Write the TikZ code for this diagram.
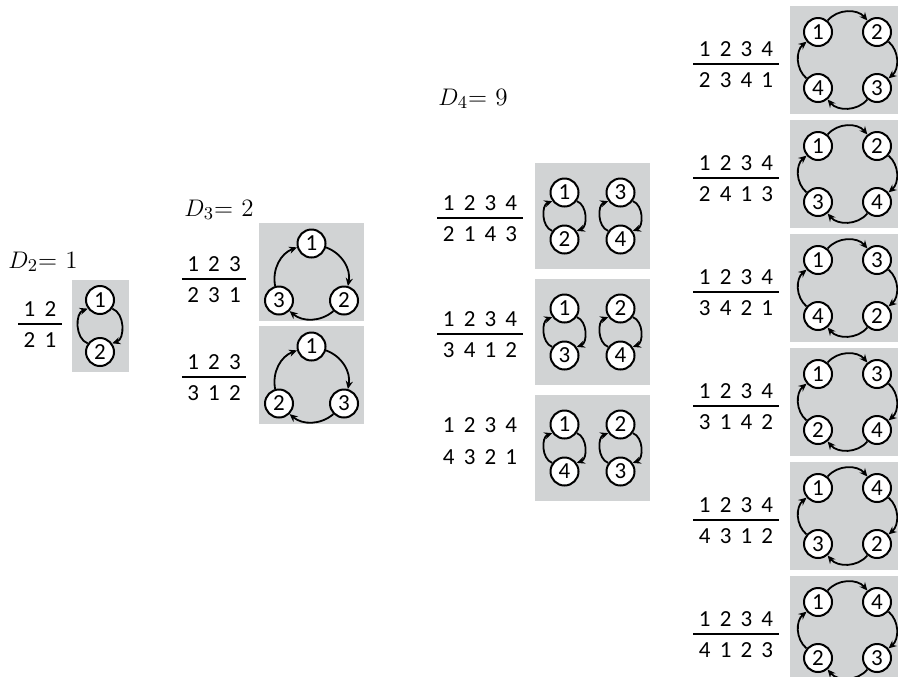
\documentclass[tikz,border=0pt]{standalone}
\usepackage{fontspec}
\setsansfont{Carlito}
\usetikzlibrary{arrows.meta,positioning}
\definecolor{boxgray}{RGB}{209,211,212}
\tikzset{
  ball/.style={circle,draw,fill=white,line width=1pt,minimum size=14pt,inner sep=0pt,font=\sffamily\fontsize{11.5}{13}\selectfont},
  cyc/.style={->,line width=0.9pt,bend left=#1},
  digits/.style={font=\sffamily\fontsize{11.5}{13}\selectfont,inner xsep=2.5pt,inner ysep=0pt},
  bar/.style={line width=0.7pt},
  panel/.style={fill=boxgray},
  dlabel/.style={anchor=base west,inner sep=0pt,font=\fontsize{12.5}{15}\selectfont}
}
\newcommand{\dgap}{\hspace{4.6pt}}
% two-row form, bar through #2
\newcommand{\perm}[4]{%
  \coordinate (#1) at (#2);
  \node[digits] (#1t) at ([yshift=7.5pt]#1) {#3};
  \node[digits] (#1b) at ([yshift=-8pt]#1) {#4};
  \draw[bar] (#1t.west |- #1) -- (#1t.east |- #1);}
% a 2-cycle, one above the other
\newcommand{\twocyc}[5]{%
  \node[ball] (#1u) at (#2,-#3) {#4};
  \node[ball] (#1l) at (#2,#3) {#5};
  \draw[cyc=70] (#1u.-35) to (#1l.35);
  \draw[cyc=70] (#1l.145) to (#1u.215);}
% a 3-cycle: top, lower right, lower left
\newcommand{\threecyc}[4]{%
  \node[ball] (#1a) at (0,-28.5) {#2};
  \node[ball] (#1b) at (32.5,28.5) {#3};
  \node[ball] (#1c) at (-32.5,28.5) {#4};
  \draw[cyc=40] (#1a.-15) to (#1b.75);
  \draw[cyc=40] (#1b.-135) to (#1c.-45);
  \draw[cyc=40] (#1c.105) to (#1a.195);}
% a 4-cycle, clockwise from upper left
\newcommand{\fourcyc}[5]{%
  \node[ball] (#1a) at (-29.5,-28) {#2};
  \node[ball] (#1b) at (29.5,-28) {#3};
  \node[ball] (#1c) at (29.5,28) {#4};
  \node[ball] (#1d) at (-29.5,28) {#5};
  \draw[cyc=50] (#1a.50) to (#1b.130);
  \draw[cyc=50] (#1b.-40) to (#1c.40);
  \draw[cyc=50] (#1c.-130) to (#1d.-50);
  \draw[cyc=50] (#1d.140) to (#1a.220);}

\begin{document}
\begin{tikzpicture}[>={Stealth[length=4pt,width=3.6pt]},x=0.5pt,y=-0.5pt]
  \useasboundingbox (0,0) rectangle (898,676);
  \clip (0,0) rectangle (898,676);
  % n = 2
  \node[dlabel] (d2) at (8,268) {$D_2$= 1};
  \perm{p21}{40,324}{1\dgap 2}{2\dgap 1}
  \begin{scope}[shift={(100,326)}]
    \fill[panel] (-28.5,-46) rectangle (28.5,46);
    \twocyc{c21}{0}{26}{1}{2}
  \end{scope}
  % n = 3
  \node[dlabel] (d3) at (184,216) {$D_3$= 2};
  \perm{p31}{214,279}{1\dgap 2\dgap 3}{2\dgap 3\dgap 1}
  \perm{p32}{214,377}{1\dgap 2\dgap 3}{3\dgap 1\dgap 2}
  \begin{scope}[shift={(311.5,272)}]
    \fill[panel] (-52.5,-49) rectangle (52.5,49);
    \threecyc{c31}{1}{2}{3}
  \end{scope}
  \begin{scope}[shift={(311.5,375)}]
    \fill[panel] (-52.5,-49) rectangle (52.5,49);
    \threecyc{c32}{1}{3}{2}
  \end{scope}
  % n = 4, two 2-cycles
  \node[dlabel] (d4) at (438,105) {$D_4$= 9};
  \perm{p41}{480,218}{1\dgap 2\dgap 3\dgap 4}{2\dgap 1\dgap 4\dgap 3}
  \perm{p42}{480,334}{1\dgap 2\dgap 3\dgap 4}{3\dgap 4\dgap 1\dgap 2}
  \node[digits] (p43t) at (480,425) {1\dgap 2\dgap 3\dgap 4};
  \node[digits] (p43b) at (480,457) {4\dgap 3\dgap 2\dgap 1};
  \begin{scope}[shift={(592.5,216)}]
    \fill[panel] (-57.5,-53) rectangle (57.5,53);
    \twocyc{c41}{-28}{23.5}{1}{2}
    \twocyc{c41r}{28}{23.5}{3}{4}
  \end{scope}
  \begin{scope}[shift={(592.5,332)}]
    \fill[panel] (-57.5,-53) rectangle (57.5,53);
    \twocyc{c42}{-28}{23.5}{1}{3}
    \twocyc{c42r}{28}{23.5}{2}{4}
  \end{scope}
  \begin{scope}[shift={(592.5,448)}]
    \fill[panel] (-57.5,-53) rectangle (57.5,53);
    \twocyc{c43}{-28}{23.5}{1}{4}
    \twocyc{c43r}{28}{23.5}{2}{3}
  \end{scope}
  % n = 4, 4-cycles
  \perm{q1}{736,64}{1\dgap 2\dgap 3\dgap 4}{2\dgap 3\dgap 4\dgap 1}
  \perm{q2}{736,178}{1\dgap 2\dgap 3\dgap 4}{2\dgap 4\dgap 1\dgap 3}
  \perm{q3}{736,292}{1\dgap 2\dgap 3\dgap 4}{3\dgap 4\dgap 2\dgap 1}
  \perm{q4}{736,406}{1\dgap 2\dgap 3\dgap 4}{3\dgap 1\dgap 4\dgap 2}
  \perm{q5}{736,520}{1\dgap 2\dgap 3\dgap 4}{4\dgap 3\dgap 1\dgap 2}
  \perm{q6}{736,634}{1\dgap 2\dgap 3\dgap 4}{4\dgap 1\dgap 2\dgap 3}
  \begin{scope}[shift={(847.5,60)}]
    \fill[panel] (-57.5,-54) rectangle (57.5,54);
    \fourcyc{k1}{1}{2}{3}{4}
  \end{scope}
  \begin{scope}[shift={(847.5,174)}]
    \fill[panel] (-57.5,-54) rectangle (57.5,54);
    \fourcyc{k2}{1}{2}{4}{3}
  \end{scope}
  \begin{scope}[shift={(847.5,288)}]
    \fill[panel] (-57.5,-54) rectangle (57.5,54);
    \fourcyc{k3}{1}{3}{2}{4}
  \end{scope}
  \begin{scope}[shift={(847.5,402)}]
    \fill[panel] (-57.5,-54) rectangle (57.5,54);
    \fourcyc{k4}{1}{3}{4}{2}
  \end{scope}
  \begin{scope}[shift={(847.5,516)}]
    \fill[panel] (-57.5,-54) rectangle (57.5,54);
    \fourcyc{k5}{1}{4}{2}{3}
  \end{scope}
  \begin{scope}[shift={(847.5,630)}]
    \fill[panel] (-57.5,-54) rectangle (57.5,54);
    \fourcyc{k6}{1}{4}{3}{2}
  \end{scope}
\end{tikzpicture}
\end{document}
